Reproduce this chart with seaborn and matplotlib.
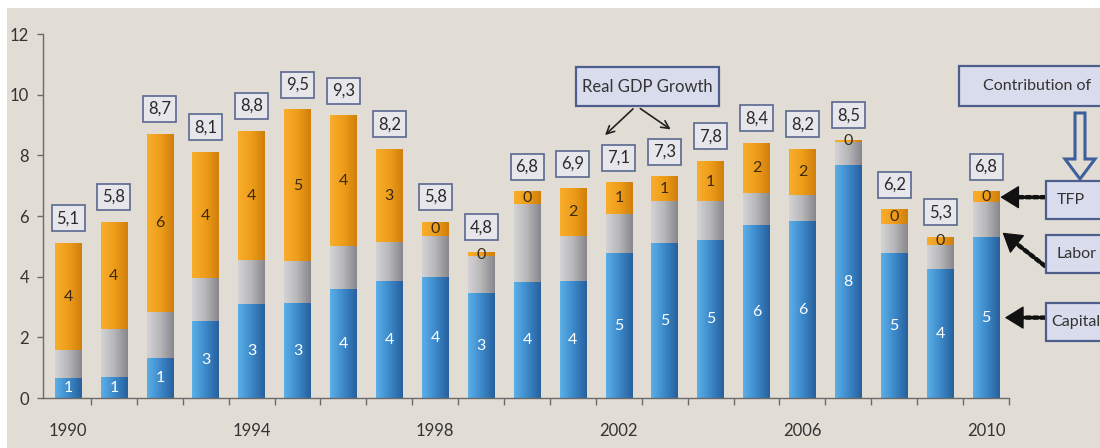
import numpy as np
import pandas as pd
import matplotlib
matplotlib.use("Agg")
import matplotlib.pyplot as plt
import seaborn as sns
from matplotlib.colors import LinearSegmentedColormap
from matplotlib.patches import Rectangle, FancyArrow
from matplotlib.transforms import blended_transform_factory

# ---- data: real GDP growth and contributions of its sources (%) ----
years = list(range(1990, 2011))
gdp_growth = [5.1, 5.8, 8.7, 8.1, 8.8, 9.5, 9.3, 8.2, 5.8, 4.8, 6.8,
              6.9, 7.1, 7.3, 7.8, 8.4, 8.2, 8.5, 6.2, 5.3, 6.8]
capital = [0.64, 0.68, 1.30, 2.52, 3.07, 3.12, 3.58, 3.85, 3.98, 3.45, 3.80,
           3.85, 4.77, 5.10, 5.18, 5.68, 5.81, 7.66, 4.77, 4.22, 5.30]
labor = [0.91, 1.59, 1.53, 1.41, 1.45, 1.39, 1.40, 1.28, 1.34, 1.20, 2.59,
         1.49, 1.29, 1.37, 1.29, 1.07, 0.87, 0.76, 0.96, 0.82, 1.14]
year_labels = ["1990", "1994", "1998", "2002", "2006", "2010"]

df = pd.DataFrame({"year": years, "gdp": gdp_growth,
                   "capital": capital, "labor": labor})
df["tfp"] = df["gdp"] - df["capital"] - df["labor"]
df["capital_labor"] = df["capital"] + df["labor"]

BG = "#e2ddd4"
sns.set_style("ticks")
plt.rcParams["font.family"] = ["Lato", "DejaVu Sans"]

fig = plt.figure(figsize=(11, 4.48), dpi=100, facecolor="white")
fig.add_artist(Rectangle((7 / 1100, 0), 1, 1 - 8 / 448, transform=fig.transFigure,
                         facecolor=BG, edgecolor="none", zorder=-10))

ax = fig.add_axes([43 / 1100, 50 / 448, 966 / 1100, 364 / 448])
ax.set_facecolor("none")

# stacked bars: total first, then capital+labor, then capital in front
layers = [("gdp", "#ec9c1a"), ("capital_labor", "#a9a9ad"), ("capital", "#3a86c6")]
for col, c in layers:
    sns.barplot(data=df, x="year", y=col, color=c, width=0.58, saturation=1,
                errorbar=None, ax=ax)

cmaps = [
    LinearSegmentedColormap.from_list("tfp", ["#f8ae2c", "#ee9d1a", "#cf7e0c"]),
    LinearSegmentedColormap.from_list("lab", ["#d4d4d6", "#b6b6b8", "#86868c"]),
    LinearSegmentedColormap.from_list("cap", ["#5cb0e8", "#3c89ca", "#275f9c"]),
]
grad = np.linspace(0, 1, 256).reshape(1, -1)
for k, cont in enumerate(ax.containers):
    for rect in cont:
        x0, w, h = rect.get_x(), rect.get_width(), rect.get_height()
        ax.imshow(grad, cmap=cmaps[k], extent=[x0, x0 + w, 0, h], aspect="auto",
                  interpolation="bilinear", zorder=1 + 0.1 * k)
        rect.set_facecolor("none")
        rect.set_edgecolor("none")

ax.set_xlim(-0.545, 20.5)
ax.set_ylim(0, 12)

# axes styling
for s in ["top", "right"]:
    ax.spines[s].set_visible(False)
for s in ["left", "bottom"]:
    ax.spines[s].set_color("#6a6a6a")
    ax.spines[s].set_linewidth(1.0)
ax.set_xlabel("")
ax.set_ylabel("")
ax.set_yticks(range(0, 13, 2))
ax.tick_params(axis="y", length=4, width=1, color="#6a6a6a", labelsize=12,
               labelcolor="#333333", pad=6)
label_pos = [years.index(int(y)) for y in year_labels]
ax.set_xticks(label_pos, year_labels)
ax.tick_params(axis="x", which="major", length=0, labelsize=12,
               labelcolor="#333333", pad=18)
ax.set_xticks(np.arange(0.5, len(years), 1), minor=True)
ax.tick_params(axis="x", which="minor", length=5, width=1, color="#6a6a6a")


def rint(v):
    return int(np.floor(v + 0.5))


for i, r in df.iterrows():
    # growth total in a framed box above each bar
    ax.annotate(f"{r.gdp:.1f}".replace(".", ","), xy=(i, r.gdp), xytext=(0, 25),
                textcoords="offset pixels", ha="center", va="center",
                fontsize=12, color="#2a2a2a", zorder=5,
                bbox=dict(boxstyle="square,pad=0.3", fc="#e7e6ea",
                          ec="#5a6890", lw=1.2))
    ax.text(i, r.capital / 2, f"{rint(r.capital)}", ha="center", va="center",
            fontsize=11.5, color="white", zorder=5)
    ax.text(i, r.capital_labor + r.tfp / 2, f"{rint(r.tfp)}", ha="center",
            va="center", fontsize=11.5, color="#3a2a12", zorder=5)

# ---- callouts, laid out in pixel coordinates ----
ov = fig.add_axes([0, 0, 1, 1], zorder=3)
ov.set_xlim(0, 1100)
ov.set_ylim(448, 0)
ov.axis("off")
ov.patch.set_alpha(0)

BOX_FC = "#d9dcec"
BOX_EC = "#4d5d8c"


def callout(x, y, w, h, text, tx, fs=12):
    ov.add_patch(Rectangle((x, y), w, h, fc=BOX_FC, ec=BOX_EC, lw=1.6))
    ov.text(tx, y + h / 2, text, ha="center", va="center", fontsize=fs,
            color="#333333")


callout(576, 67, 143, 39, "Real GDP Growth", 647.5)
ov.annotate("", xy=(603, 137), xytext=(635, 107),
            arrowprops=dict(arrowstyle="->", lw=1.2, color="#222222",
                            mutation_scale=14))
ov.annotate("", xy=(673, 131), xytext=(638, 107),
            arrowprops=dict(arrowstyle="->", lw=1.2, color="#222222",
                            mutation_scale=14))

callout(959, 66, 165, 40, "Contribution of", 1037, fs=11.5)
ov.add_patch(FancyArrow(1080, 113, 0, 66, width=10, head_width=30,
                        head_length=20, length_includes_head=True,
                        fc=BG, ec="#3d5f9c", lw=2.2))
callout(1046, 181, 80, 38, "TFP", 1071, fs=11.5)
callout(1046, 235, 80, 38, "Labor", 1077, fs=11.5)
callout(1046, 303, 80, 38, "Capital", 1076, fs=11.5)

# dotted pointers into the segments of the last bar
last = df.iloc[-1]
xi = len(years) - 1 + 0.31
mixed = blended_transform_factory(ov.transData, ax.transData)
head_style = dict(arrowstyle="-|>,head_length=0.55,head_width=0.34",
                  color="#111111", mutation_scale=22, lw=1, shrinkA=0, shrinkB=0)


def dotted_pointer(tip, start, start_coords):
    # dotted shaft plus a solid arrow head
    ax.annotate("", xy=tip, xycoords=ax.transData, xytext=start,
                textcoords=start_coords, annotation_clip=False,
                arrowprops=dict(arrowstyle="-", color="#111111", lw=3.2,
                                linestyle=(0, (0.9, 0.75)), shrinkA=0,
                                shrinkB=6))
    ax.annotate("", xy=tip, xycoords=ax.transData, xytext=start,
                textcoords=start_coords, annotation_clip=False,
                arrowprops=head_style)


tfp_mid = last.capital_labor + last.tfp / 2
dotted_pointer((xi, tfp_mid), (1045, tfp_mid), mixed)
dotted_pointer((xi + 0.05, last.capital + 0.15), (1045, 266), ov.transData)
dotted_pointer((xi + 0.1, last.capital / 2), (1045, last.capital / 2), mixed)

fig.savefig("out.png", dpi=100, facecolor="white")
